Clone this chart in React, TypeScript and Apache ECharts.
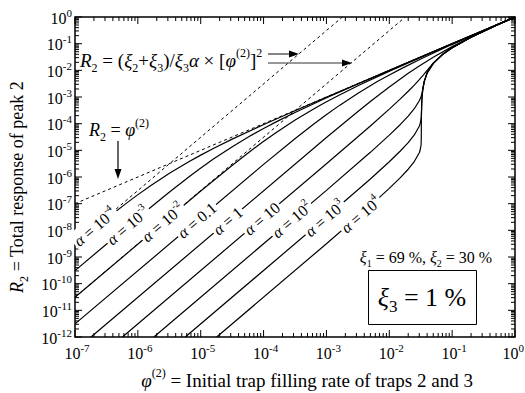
import React, { useEffect, useRef } from 'react';
import * as echarts from 'echarts';

const FONT = '"Liberation Serif", "Times New Roman", Times, serif';

const X_MIN = 1e-7;
const X_MAX = 1;
const Y_MIN = 1e-12;
const Y_MAX = 1;

const xTickExponents = [-7, -6, -5, -4, -3, -2, -1, 0];
const yTickExponents = [-12, -11, -10, -9, -8, -7, -6, -5, -4, -3, -2, -1, 0];

// curves: R2 vs phi for each alpha
const phiAlphaM4 = [1e-7, 3.226e-7, 6.452e-7, 9.677e-7, 1.613e-6, 3.226e-6, 6.452e-6, 9.677e-6, 1.613e-5, 3.226e-5, 9.677e-5, 3.226e-4, 9.677e-4, 3.226e-3, 0.1, 1];
const rAlphaM4 = [2.96e-9, 2.816e-8, 1.005e-7, 2.046e-7, 4.802e-7, 1.403e-6, 3.725e-6, 6.332e-6, 1.1935e-5, 2.682e-5, 8.932e-5, 3.132e-4, 9.571e-4, 3.215e-3, 0.1, 1];

const phiAlphaM3 = [1e-7, 9.677e-7, 3.226e-6, 6.452e-6, 9.677e-6, 1.613e-5, 3.226e-5, 6.452e-5, 9.677e-5, 1.613e-4, 3.226e-4, 9.677e-4, 3.226e-3, 9.677e-3, 0.03226, 0.1, 1];
const rAlphaM3 = [3.089e-10, 2.78e-8, 2.816e-7, 1.005e-6, 2.046e-6, 4.802e-6, 1.403e-5, 3.725e-5, 6.332e-5, 1.1935e-4, 2.682e-4, 8.932e-4, 3.132e-3, 9.571e-3, 0.03215, 0.0999, 1];

const phiAlphaM2 = [1e-7, 9.677e-6, 3.226e-5, 6.452e-5, 9.677e-5, 1.613e-4, 3.226e-4, 6.452e-4, 9.677e-4, 1.613e-3, 3.226e-3, 9.677e-3, 0.03226, 0.0968, 0.3, 1];
const rAlphaM2 = [3.1e-11, 2.78e-7, 2.816e-6, 1.005e-5, 2.046e-5, 4.802e-5, 1.403e-4, 3.725e-4, 6.332e-4, 1.1935e-3, 2.682e-3, 8.93e-3, 0.03136, 0.09582, 0.2992, 1];

const phiAlphaM1 = [1e-7, 9.677e-5, 3.226e-4, 6.452e-4, 9.68e-4, 1.613e-3, 3.226e-3, 6.452e-3, 9.68e-3, 0.01613, 0.03226, 0.0968, 0.3, 0.5, 1];
const rAlphaM1 = [3.1e-12, 2.78e-6, 2.833e-5, 1.01e-4, 2.065e-4, 4.85e-4, 1.425e-3, 3.786e-3, 6.44e-3, 0.01213, 0.02723, 0.09046, 0.294, 0.4955, 1];

const phiAlpha0 = [1.796e-7, 1e-3, 3e-3, 5e-3, 0.01, 0.02, 0.03, 0.05, 0.1, 0.2, 0.5, 1];
const rAlpha0 = [1e-12, 3.01e-5, 2.56e-4, 6.739e-4, 2.385e-3, 7.75e-3, 0.01468, 0.031, 0.0775, 0.1771, 0.4844, 1];

const phiAlpha1 = [5.68e-7, 1e-3, 3e-3, 5e-3, 0.01, 0.015, 0.02, 0.025, 0.03, 0.035, 0.04, 0.05, 0.07, 0.1, 0.2, 0.5, 1];
const rAlpha1 = [1e-12, 3.135e-6, 2.889e-5, 8.225e-5, 3.513e-4, 8.475e-4, 1.639e-3, 2.803e-3, 4.473e-3, 6.817e-3, 0.01, 0.0187, 0.039, 0.07, 0.1733, 0.4833, 1];

const phiAlpha2 = [1.796e-6, 1e-3, 5e-3, 0.01, 0.015, 0.02, 0.025, 0.03, 0.031, 0.032, 0.03226, 0.0325, 0.033, 0.034, 0.036, 0.04, 0.05, 0.07, 0.1, 0.2, 0.5, 1];
const rAlpha2 = [1e-12, 3.15e-7, 8.42e-6, 3.713e-5, 9.351e-5, 1.918e-4, 3.641e-4, 7.23e-4, 8.557e-4, 1.043e-3, 1.105e-3, 1.172e-3, 1.3435e-3, 1.915e-3, 3.867e-3, 0.008, 0.01833, 0.039, 0.07, 0.1733, 0.4833, 1];

const phiAlpha3 = [5.68e-6, 1e-3, 5e-3, 0.01, 0.015, 0.02, 0.025, 0.03, 0.031, 0.032, 0.03226, 0.0323, 0.0325, 0.0328, 0.033, 0.034, 0.036, 0.04, 0.05, 0.07, 0.1, 0.2, 0.5, 1];
const rAlpha3 = [1e-12, 3.147e-8, 8.44e-7, 3.728e-6, 9.45e-6, 1.954e-5, 3.772e-5, 8.034e-5, 1.004e-4, 1.435e-4, 1.735e-4, 1.816e-4, 2.626e-4, 5.6e-4, 7.667e-4, 1.8e-3, 3.867e-3, 0.008, 0.01833, 0.039, 0.07, 0.1733, 0.4833, 1];

const phiAlpha4 = [1.796e-5, 1e-3, 5e-3, 0.01, 0.015, 0.02, 0.025, 0.03, 0.031, 0.032, 0.03226, 0.0323, 0.0324, 0.0325, 0.033, 0.034, 0.036, 0.04, 0.05, 0.07, 0.1, 0.2, 0.5, 1];
const rAlpha4 = [1e-12, 3.147e-9, 8.44e-8, 3.729e-7, 9.46e-7, 1.955e-6, 3.787e-6, 8.139e-6, 1.027e-5, 1.567e-5, 2.4e-5, 4.34e-5, 1.467e-4, 2.5e-4, 7.667e-4, 1.8e-3, 3.867e-3, 0.008, 0.01833, 0.039, 0.07, 0.1733, 0.4833, 1];

// dashed reference lines
const phiLinear = [1e-7, 1];
const rLinear = [1e-7, 1];
const phiAsymM4 = [1e-7, 1.796e-3];
const rAsymM4 = [3.1e-9, 1];
const phiAsymM2 = [1e-7, 1.796e-2];
const rAsymM2 = [3.1e-11, 1];

// curve labels
const alphaLabelBase = ['10', '10', '10', '0.1', '1', '10', '10', '10', '10'];
const alphaLabelExp = ['-4', '-3', '-2', '', '', '', '2', '3', '4'];
const labelPhi = [2.08e-7, 6.97e-7, 2.51e-6, 8.71e-6, 2.7e-5, 9.4e-5, 2.82e-4, 9.44e-4, 3.52e-3];
const labelR = [1.34e-8, 1.5e-8, 1.95e-8, 2.35e-8, 2.26e-8, 2.74e-8, 2.47e-8, 2.76e-8, 3.84e-8];

function richSet(size: number, lh: number, small: number) {
  return {
    n: { fontFamily: FONT, fontSize: size, lineHeight: lh, fill: '#000' },
    i: { fontFamily: FONT, fontSize: size, lineHeight: lh, fontStyle: 'italic', fill: '#000' },
    sup: { fontFamily: FONT, fontSize: small, lineHeight: small + 1, verticalAlign: 'top', fill: '#000' },
    sub: { fontFamily: FONT, fontSize: small, lineHeight: small + 1, verticalAlign: 'bottom', fill: '#000' },
  };
}

const RICH_TICK = richSet(16, 22, 11);
const RICH_LABEL = richSet(16, 22, 10);
const RICH_NAME = richSet(18, 26, 12);
const RICH_NAME_L = richSet(19, 27, 12);
const RICH_SMALL = richSet(16, 22, 10);
const RICH_BIG = richSet(26, 36, 17);

function txt(text: string, rich: any, align: string, vAlign: string, extra: any = {}) {
  return {
    text, rich, fontFamily: FONT, fill: '#000',
    align, verticalAlign: vAlign, textAlign: align, textVerticalAlign: vAlign, ...extra,
  };
}

const curves = [
  [phiAlphaM4, rAlphaM4], [phiAlphaM3, rAlphaM3], [phiAlphaM2, rAlphaM2], [phiAlphaM1, rAlphaM1],
  [phiAlpha0, rAlpha0], [phiAlpha1, rAlpha1], [phiAlpha2, rAlpha2], [phiAlpha3, rAlpha3], [phiAlpha4, rAlpha4],
];
const dashed = [[phiLinear, rLinear], [phiAsymM4, rAsymM4], [phiAsymM2, rAsymM2]];

function zip(a: number[], b: number[]) {
  return a.map((v, i) => [v, b[i]]);
}

function buildOption() {
  const xTickData: number[][] = [];
  xTickExponents.forEach((e) => {
    const kMax = e === 0 ? 1 : 9;
    for (let k = 1; k <= kMax; k++) xTickData.push([k * Math.pow(10, e), Y_MIN, k === 1 ? 1 : 0]);
  });
  const yTickData: number[][] = [];
  yTickExponents.forEach((e) => {
    const kMax = e === 0 ? 1 : 9;
    for (let k = 1; k <= kMax; k++) yTickData.push([X_MIN, k * Math.pow(10, e), k === 1 ? 1 : 0]);
  });

  const series: any[] = [];
  curves.forEach(([p, r]) => {
    series.push({
      type: 'line', data: zip(p, r), showSymbol: false, symbol: 'none', silent: true, clip: true, z: 2,
      lineStyle: { color: '#000', width: 1.2 },
    });
  });
  dashed.forEach(([p, r]) => {
    series.push({
      type: 'line', data: zip(p, r), showSymbol: false, symbol: 'none', silent: true, clip: true, z: 2,
      lineStyle: { color: '#000', width: 1, type: [3, 3] },
    });
  });

  // ticks
  series.push({
    type: 'custom', silent: true, clip: false, z: 4, data: xTickData,
    renderItem: (params: any, api: any) => {
      const x = api.value(0);
      const major = api.value(2) === 1;
      const len = major ? 7 : 4;
      const pb = api.coord([x, Y_MIN]);
      const pt = api.coord([x, Y_MAX]);
      return {
        type: 'group', children: [
          { type: 'line', shape: { x1: pb[0], y1: pb[1], x2: pb[0], y2: pb[1] - len }, style: { stroke: '#000', lineWidth: 1 } },
          { type: 'line', shape: { x1: pt[0], y1: pt[1], x2: pt[0], y2: pt[1] + len }, style: { stroke: '#000', lineWidth: 1 } },
        ],
      };
    },
  });
  series.push({
    type: 'custom', silent: true, clip: false, z: 4, data: yTickData,
    renderItem: (params: any, api: any) => {
      const y = api.value(1);
      const major = api.value(2) === 1;
      const len = major ? 7 : 4;
      const pl = api.coord([X_MIN, y]);
      const pr = api.coord([X_MAX, y]);
      return {
        type: 'group', children: [
          { type: 'line', shape: { x1: pl[0], y1: pl[1], x2: pl[0] + len, y2: pl[1] }, style: { stroke: '#000', lineWidth: 1 } },
          { type: 'line', shape: { x1: pr[0], y1: pr[1], x2: pr[0] - len, y2: pr[1] }, style: { stroke: '#000', lineWidth: 1 } },
        ],
      };
    },
  });
  // tick labels
  series.push({
    type: 'custom', silent: true, clip: false, z: 4,
    data: xTickExponents.map((e) => [Math.pow(10, e), Y_MIN, e]),
    renderItem: (params: any, api: any) => {
      const p = api.coord([api.value(0), api.value(1)]);
      const e = api.value(2);
      const last = e === 0;
      return {
        type: 'text', x: last ? 524 : p[0] + 2, y: p[1] + 5,
        style: txt(`{n|10}{sup|${e}}`, RICH_TICK, last ? 'right' : 'center', 'top'),
      };
    },
  });
  series.push({
    type: 'custom', silent: true, clip: false, z: 4,
    data: yTickExponents.map((e) => [X_MIN, Math.pow(10, e), e]),
    renderItem: (params: any, api: any) => {
      const p = api.coord([api.value(0), api.value(1)]);
      return {
        type: 'text', x: p[0] - 3, y: p[1] + 1,
        style: txt(`{n|10}{sup|${api.value(2)}}`, RICH_TICK, 'right', 'middle'),
      };
    },
  });
  // alpha labels on curves
  series.push({
    type: 'custom', silent: true, clip: false, z: 6,
    data: labelPhi.map((p, i) => [p, labelR[i], i]),
    renderItem: (params: any, api: any) => {
      const phi = api.value(0);
      const r = api.value(1);
      const idx = api.value(2);
      const p1 = api.coord([phi, r]);
      const p2 = api.coord([phi * 10, r * 100]);
      const ang = Math.atan2(p1[1] - p2[1], p2[0] - p1[0]);
      const exp = alphaLabelExp[idx];
      const text = `{i|α}{n| = ${alphaLabelBase[idx]}}` + (exp ? `{sup|${exp}}` : '');
      return {
        type: 'text', x: p1[0], y: p1[1], rotation: ang, originX: 0, originY: 0,
        style: txt(text, RICH_LABEL, 'center', 'middle', { backgroundColor: '#fff', padding: [0, 2, 0, 2] }),
      };
    },
  });

  const graphic: any[] = [
    {
      type: 'text', x: 17, y: 187, rotation: Math.PI / 2, z: 10,
      style: txt('{i|R}{sub|2}{n| = Total response of peak 2}', RICH_NAME, 'center', 'middle'),
    },
    {
      type: 'text', x: 307, y: 380, z: 10,
      style: txt('{i|φ}{sup|(2)}{n| = Initial trap filling rate of traps 2 and 3}', RICH_NAME_L, 'center', 'middle'),
    },
    {
      type: 'text', x: 80, y: 60, z: 10,
      style: txt('{i|R}{sub|2}{n| = (}{i|ξ}{sub|2}{n|+}{i|ξ}{sub|3}{n|)/}{i|ξ}{sub|3}{i|α}{n| × [}{i|φ}{sup|(2)}{n|]}{sup|2}', RICH_NAME_L, 'left', 'middle'),
    },
    {
      type: 'text', x: 89, y: 130, z: 10,
      style: txt('{i|R}{sub|2}{n| = }{i|φ}{sup|(2)}', RICH_NAME, 'left', 'middle'),
    },
    { type: 'line', z: 10, shape: { x1: 268, y1: 54, x2: 291, y2: 54 }, style: { stroke: '#333', lineWidth: 1.2 } },
    { type: 'polygon', z: 10, shape: { points: [[299, 54], [289, 50.5], [289, 57.5]] }, style: { fill: '#000' } },
    { type: 'line', z: 10, shape: { x1: 268, y1: 63, x2: 344, y2: 63 }, style: { stroke: '#333', lineWidth: 1.2 } },
    { type: 'polygon', z: 10, shape: { points: [[352, 63], [342, 59.5], [342, 66.5]] }, style: { fill: '#000' } },
    { type: 'line', z: 10, shape: { x1: 118, y1: 141, x2: 118, y2: 171 }, style: { stroke: '#000', lineWidth: 1.2 } },
    { type: 'polygon', z: 10, shape: { points: [[118, 179], [114.5, 169], [121.5, 169]] }, style: { fill: '#000' } },
    {
      type: 'text', x: 426, y: 257, z: 10,
      style: txt('{i|ξ}{sub|1}{n| = 69 %, }{i|ξ}{sub|2}{n| = 30 %}', RICH_SMALL, 'center', 'middle'),
    },
    { type: 'rect', z: 10, shape: { x: 368.5, y: 270.5, width: 108, height: 54 }, style: { fill: '#fff', stroke: '#000', lineWidth: 1 } },
    {
      type: 'text', x: 422, y: 297, z: 11,
      style: txt('{i|ξ}{sub|3}{n| = 1 %}', RICH_BIG, 'center', 'middle'),
    },
  ];

  return {
    animation: false,
    backgroundColor: '#fff',
    grid: { left: 75, right: 10, top: 17, bottom: 56, show: true, borderColor: '#000', borderWidth: 1.5, backgroundColor: 'transparent' },
    xAxis: {
      type: 'log', logBase: 10, min: X_MIN, max: X_MAX,
      axisLine: { show: false }, axisTick: { show: false }, axisLabel: { show: false }, splitLine: { show: false },
    },
    yAxis: {
      type: 'log', logBase: 10, min: Y_MIN, max: Y_MAX,
      axisLine: { show: false }, axisTick: { show: false }, axisLabel: { show: false }, splitLine: { show: false },
    },
    series,
    graphic,
  };
}

export default function App() {
  const ref = useRef<HTMLDivElement>(null);
  useEffect(() => {
    const el = ref.current;
    if (!el) return;
    const chart = echarts.init(el, undefined, { renderer: 'svg' });
    chart.setOption(buildOption() as any);
    return () => chart.dispose();
  }, []);
  return <div ref={ref} style={{ position: 'absolute', left: 0, top: 0, width: 525, height: 393, background: '#fff' }} />;
}
